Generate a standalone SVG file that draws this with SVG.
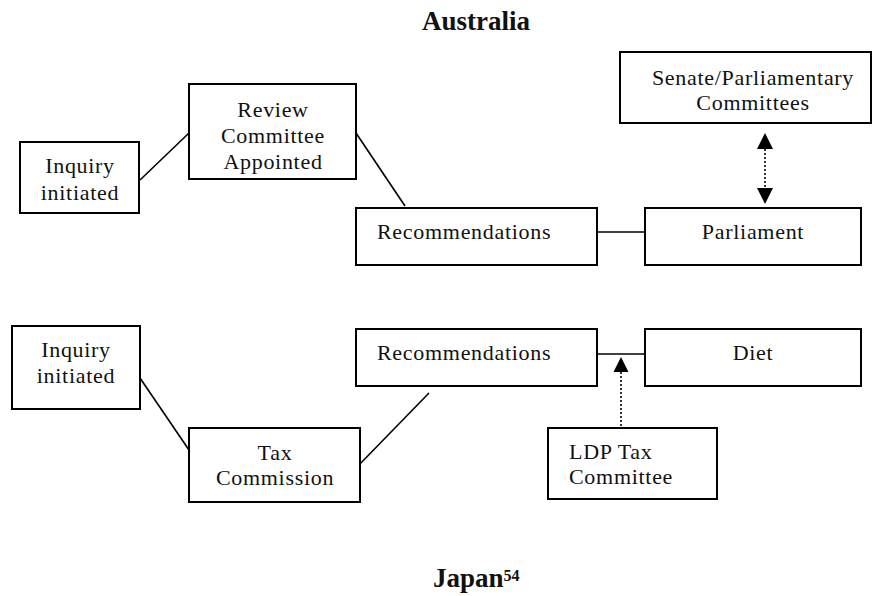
<svg xmlns="http://www.w3.org/2000/svg" width="873" height="596" viewBox="0 0 873 596">
<style>
.box{fill:#fff;stroke:#000;stroke-width:2}
.t{font-family:"Liberation Serif","Times New Roman",serif;font-size:22px;letter-spacing:0.7px;fill:#111}
.c{text-anchor:middle}
.title{font-family:"Liberation Serif","Times New Roman",serif;font-weight:bold;font-size:27px;fill:#111}
.ln{stroke:#000;stroke-width:1.6;fill:none}
.dot{stroke:#000;stroke-width:1.6;stroke-dasharray:2 2;fill:none}
.ah{fill:#000}
</style>
<rect width="873" height="596" fill="#fff"/>
<text class="title c" x="476" y="30">Australia</text>
<text class="title" x="433" y="587">Japan<tspan font-size="16" dy="-6">54</tspan></text>

<g id="connectors">
<line class="ln" x1="140" y1="180" x2="189" y2="133"/>
<line class="ln" x1="356" y1="133" x2="405" y2="206"/>
<line class="ln" x1="597" y1="232" x2="645" y2="232"/>
<line class="dot" x1="765" y1="149" x2="765" y2="188"/>
<polygon class="ah" points="765,133 757,149 773,149"/>
<polygon class="ah" points="765,204 757,188 773,188"/>
<line class="ln" x1="140" y1="378" x2="189" y2="450"/>
<line class="ln" x1="357" y1="467" x2="429" y2="393"/>
<line class="ln" x1="597" y1="354" x2="645" y2="354"/>
<line class="dot" x1="621" y1="372" x2="621" y2="427"/>
<polygon class="ah" points="621,357 613.5,372 628.5,372"/>
</g>

<g id="aus-inquiry">
<rect class="box" x="20" y="142" width="119" height="71"/>
<text class="t c" x="80" y="173">Inquiry</text>
<text class="t c" x="80" y="200">initiated</text>
</g>
<g id="aus-review">
<rect class="box" x="189" y="84" width="167" height="95"/>
<text class="t c" x="273" y="117">Review</text>
<text class="t c" x="273" y="143">Committee</text>
<text class="t c" x="273" y="169">Appointed</text>
</g>
<g id="aus-recommendations">
<rect class="box" x="356" y="208" width="241" height="57"/>
<text class="t" x="377" y="239">Recommendations</text>
</g>
<g id="aus-parliament">
<rect class="box" x="645" y="208" width="216" height="57"/>
<text class="t c" x="753" y="239">Parliament</text>
</g>
<g id="aus-senate">
<rect class="box" x="620" y="52" width="251" height="71"/>
<text class="t c" x="753" y="85">Senate/Parliamentary</text>
<text class="t c" x="753" y="110">Committees</text>
</g>

<g id="jp-inquiry">
<rect class="box" x="12" y="326" width="128" height="83"/>
<text class="t c" x="76" y="357">Inquiry</text>
<text class="t c" x="76" y="383">initiated</text>
</g>
<g id="jp-tax">
<rect class="box" x="189" y="428" width="171" height="74"/>
<text class="t c" x="275" y="460">Tax</text>
<text class="t c" x="275" y="485">Commission</text>
</g>
<g id="jp-recommendations">
<rect class="box" x="356" y="329" width="241" height="57"/>
<text class="t" x="377" y="360">Recommendations</text>
</g>
<g id="jp-diet">
<rect class="box" x="645" y="329" width="216" height="57"/>
<text class="t c" x="753" y="360">Diet</text>
</g>
<g id="jp-ldp">
<rect class="box" x="548" y="428" width="169" height="71"/>
<text class="t" x="569" y="459">LDP Tax</text>
<text class="t" x="569" y="484">Committee</text>
</g>
</svg>
